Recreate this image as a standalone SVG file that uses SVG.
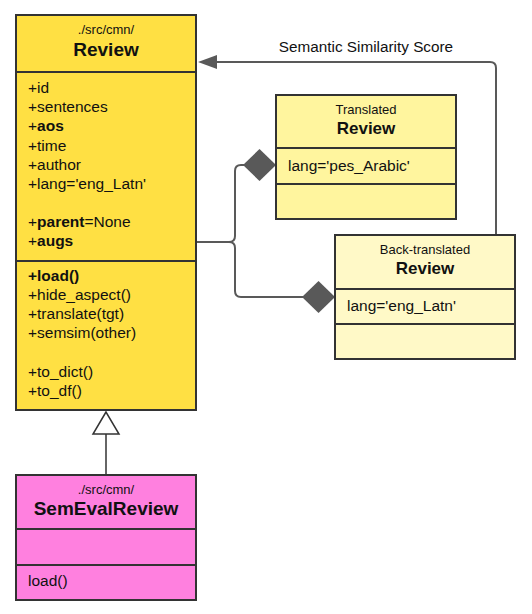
<svg xmlns="http://www.w3.org/2000/svg" width="532" height="614" viewBox="0 0 532 614">
<style>
.box{stroke:#333;stroke-width:2}
.t{font-family:"Liberation Sans",Arial,sans-serif;fill:#111}
.sm{font-size:13px}
.at{font-size:15.5px}
.ti{font-size:19px;font-weight:bold}
.ti2{font-size:17px;font-weight:bold}
.b{font-weight:bold}
.con{fill:none;stroke:#595959;stroke-width:2}
</style>
<rect width="532" height="614" fill="#fff"/>
<g id="connectors">
<path class="con" d="M496,235 L496,68 Q496,62 490,62 L216,62"/>
<path d="M198,62 L217,55 L217,69 Z" fill="#595959"/>
<text class="t" x="366" y="52" font-size="15.3" text-anchor="middle" fill="#333">Semantic Similarity Score</text>
<path class="con" d="M197,242 L229,242 Q235,242 235,236 L235,171 Q235,165 241,165 L244,165"/>
<path class="con" d="M229,242 Q235,242 235,248 L235,291 Q235,297 241,297 L303,297"/>
<path d="M243,165 L259.5,149 L276,165 L259.5,181 Z" fill="#595959"/>
<path d="M302,297 L318.5,281 L335,297 L318.5,313 Z" fill="#595959"/>
<line x1="106" y1="434" x2="106" y2="474" stroke="#333" stroke-width="1.5"/>
<path d="M106,412 L93,434 L119,434 Z" fill="#fff" stroke="#333" stroke-width="1.5"/>
</g>
<g id="review">
<rect class="box" x="16" y="15" width="180" height="395" fill="#FFE043"/>
<line class="box" x1="16" y1="72" x2="196" y2="72"/>
<line class="box" x1="16" y1="261" x2="196" y2="261"/>
<text class="t sm" x="106" y="34" text-anchor="middle">./src/cmn/</text>
<text class="t ti" x="106" y="56" text-anchor="middle">Review</text>
<g class="t at">
<text x="28" y="93">+id</text>
<text x="28" y="112">+sentences</text>
<text x="28" y="131">+<tspan class="b">aos</tspan></text>
<text x="28" y="151">+time</text>
<text x="28" y="170">+author</text>
<text x="28" y="189">+lang='eng_Latn'</text>
<text x="28" y="227">+<tspan class="b">parent</tspan>=None</text>
<text x="28" y="246">+<tspan class="b">augs</tspan></text>
<text x="28" y="281" class="b">+load()</text>
<text x="28" y="300">+hide_aspect()</text>
<text x="28" y="319">+translate(tgt)</text>
<text x="28" y="338">+semsim(other)</text>
<text x="28" y="377">+to_dict()</text>
<text x="28" y="396">+to_df()</text>
</g>
</g>
<g id="translated">
<rect class="box" x="276" y="95" width="180" height="124" fill="#FFF59E"/>
<line class="box" x1="276" y1="148" x2="456" y2="148"/>
<line class="box" x1="276" y1="184" x2="456" y2="184"/>
<text class="t sm" x="366" y="114" text-anchor="middle">Translated</text>
<text class="t ti2" x="366" y="134" text-anchor="middle">Review</text>
<text class="t at" x="288" y="171">lang='pes_Arabic'</text>
</g>
<g id="backtranslated">
<rect class="box" x="335" y="235" width="180" height="124" fill="#FFF9C7"/>
<line class="box" x1="335" y1="289" x2="515" y2="289"/>
<line class="box" x1="335" y1="324" x2="515" y2="324"/>
<text class="t sm" x="425" y="254" text-anchor="middle">Back-translated</text>
<text class="t ti2" x="425" y="274" text-anchor="middle">Review</text>
<text class="t at" x="347" y="311">lang='eng_Latn'</text>
</g>
<g id="semevalreview">
<rect class="box" x="16" y="475" width="180" height="125" fill="#FF80DF"/>
<line class="box" x1="16" y1="529" x2="196" y2="529"/>
<line class="box" x1="16" y1="565" x2="196" y2="565"/>
<text class="t sm" x="106" y="494" text-anchor="middle">./src/cmn/</text>
<text class="t ti" x="106" y="515" text-anchor="middle">SemEvalReview</text>
<text class="t at" x="28" y="586">load()</text>
</g>
</svg>
